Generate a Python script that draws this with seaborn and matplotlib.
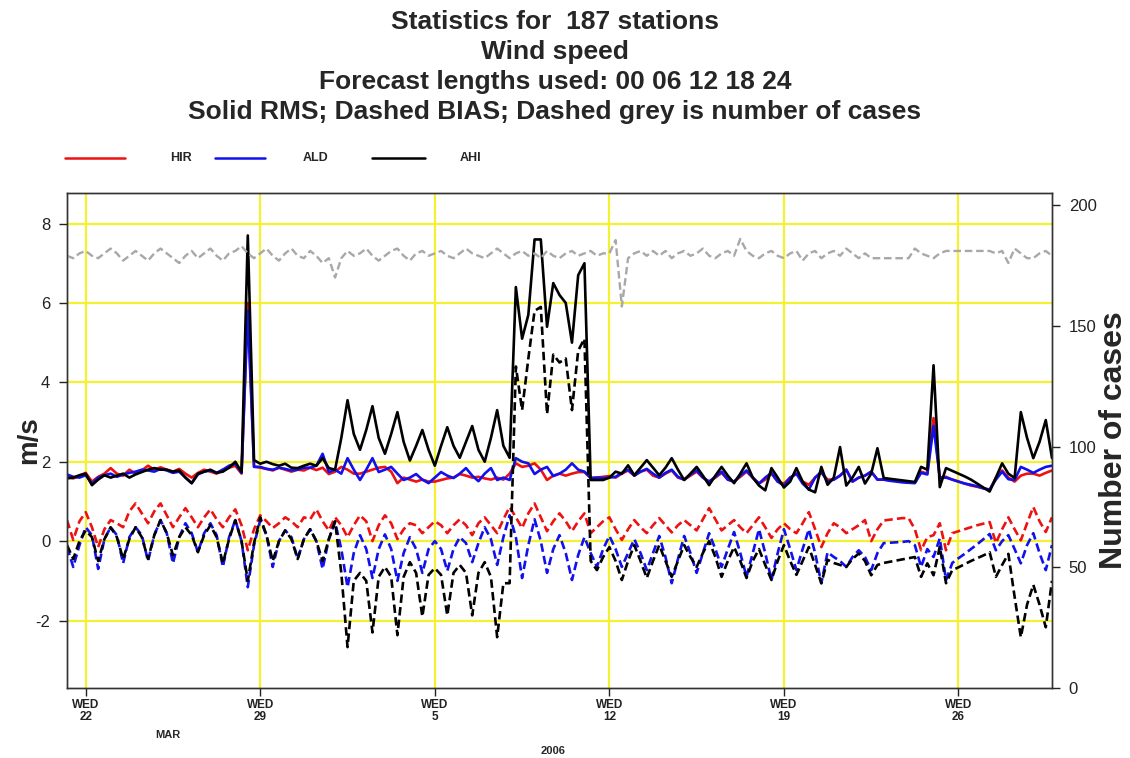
import numpy as np
import pandas as pd
import matplotlib
matplotlib.use("Agg")
import matplotlib.pyplot as plt
from matplotlib.lines import Line2D
import seaborn as sns

# ---------------- data (6-hourly, 2006-03-21 06Z .. 2006-04-29 18Z) ----------------
start_time = "2006-03-21 06:00"
n_points = 159
step = "6h"

hir_rms = [1.62, 1.58, 1.65,
           1.72, 1.50, 1.62, 1.70,
           1.84, 1.70, 1.65, 1.80,
           1.70, 1.78, 1.90, 1.80,
           1.86, 1.80, 1.75, 1.82,
           1.70, 1.60, 1.72, 1.80,
           1.75, 1.70, 1.80, 1.85,
           1.90, 1.70, 6.00, 1.88,
           1.85, 1.82, 1.78, 1.85,
           1.80, 1.75, 1.80, 1.78,
           1.85, 1.79, 1.85, 1.69,
           1.75, 1.87, 1.80, 1.70,
           1.70, 1.75, 1.80, 1.85,
           1.87, 1.75, 1.46, 1.60,
           1.55, 1.50, 1.55, 1.50,
           1.50, 1.54, 1.58, 1.60,
           1.69, 1.65, 1.60, 1.62,
           1.58, 1.55, 1.60, 1.55,
           1.70, 1.96, 1.87, 1.90,
           1.96, 1.80, 1.54, 1.65,
           1.70, 1.65, 1.70, 1.74,
           1.74, 1.59, 1.60, 1.62,
           1.64, 1.60, 1.70, 1.78,
           1.65, 1.75, 1.80, 1.65,
           1.60, 1.70, 1.78, 1.60,
           1.55, 1.65, 1.75, 1.60,
           1.50, 1.60, 1.72, 1.55,
           1.50, 1.62, 1.75, 1.60,
           1.45, 1.55, 1.70, 1.50,
           1.45, 1.60, 1.70, 1.50,
           1.42, 1.60, 1.72, 1.55,
           1.55, 1.65, 1.80, 1.50,
           1.60, 1.65, 1.75, 1.55,
           1.55, 1.53, 1.52, 1.50,
           1.48, 1.47, 1.75, 1.70,
           3.10, 1.60, 1.62, 1.55,
           1.50, 1.45, 1.40, 1.37,
           1.33, 1.29, 1.60, 1.78,
           1.60, 1.50, 1.65, 1.70,
           1.70, 1.65, 1.72, 1.78]

ald_rms = [1.68, 1.62, 1.60,
           1.66, 1.45, 1.60, 1.66,
           1.70, 1.62, 1.68, 1.72,
           1.75, 1.80, 1.78, 1.75,
           1.82, 1.78, 1.72, 1.75,
           1.60, 1.46, 1.68, 1.75,
           1.78, 1.72, 1.80, 1.90,
           1.95, 1.72, 5.80, 1.87,
           1.87, 1.82, 1.80, 1.85,
           1.82, 1.78, 1.80, 1.85,
           1.85, 1.90, 2.20, 1.74,
           1.80, 1.70, 2.09, 1.80,
           1.54, 1.80, 2.09, 1.74,
           1.80, 1.87, 1.70, 1.54,
           1.60, 1.69, 1.55, 1.46,
           1.60, 1.74, 1.65, 1.59,
           1.70, 1.84, 1.65, 1.51,
           1.70, 1.84, 1.54, 1.60,
           1.54, 2.09, 2.00, 1.96,
           1.69, 1.80, 1.87, 1.64,
           1.70, 1.80, 1.96, 1.80,
           1.75, 1.59, 1.60, 1.59,
           1.60, 1.62, 1.72, 1.80,
           1.65, 1.75, 1.82, 1.70,
           1.60, 1.72, 1.80, 1.62,
           1.55, 1.68, 1.78, 1.60,
           1.50, 1.62, 1.75, 1.55,
           1.50, 1.65, 1.78, 1.60,
           1.45, 1.60, 1.72, 1.50,
           1.40, 1.60, 1.70, 1.45,
           1.30, 1.60, 1.75, 1.50,
           1.55, 1.65, 1.80, 1.50,
           1.60, 1.65, 1.75, 1.55,
           1.55, 1.52, 1.50, 1.48,
           1.47, 1.46, 1.72, 1.68,
           2.90, 1.60, 1.60, 1.55,
           1.50, 1.45, 1.42, 1.38,
           1.33, 1.30, 1.55, 1.75,
           1.56, 1.54, 1.87, 1.80,
           1.72, 1.80, 1.87, 1.90]

ahi_rms = [1.58, 1.60, 1.66,
           1.70, 1.41, 1.55, 1.66,
           1.60, 1.65, 1.70, 1.60,
           1.68, 1.74, 1.80, 1.84,
           1.80, 1.80, 1.75, 1.78,
           1.60, 1.46, 1.70, 1.75,
           1.80, 1.72, 1.75, 1.85,
           2.00, 1.74, 7.70, 2.04,
           1.95, 2.00, 1.94, 1.90,
           1.95, 1.85, 1.84, 1.90,
           1.95, 1.90, 2.09, 1.84,
           1.80, 2.60, 3.55, 2.70,
           2.30, 2.80, 3.40, 2.60,
           2.20, 2.70, 3.25, 2.50,
           2.03, 2.40, 2.80, 2.30,
           1.90, 2.40, 2.87, 2.40,
           2.10, 2.50, 2.90, 2.30,
           2.00, 2.60, 3.30, 2.40,
           2.10, 6.40, 5.10, 5.70,
           7.60, 7.60, 5.40, 6.50,
           6.20, 6.00, 5.00, 6.70,
           7.00, 1.54, 1.54, 1.54,
           1.60, 1.75, 1.70, 1.91,
           1.66, 1.85, 2.04, 1.85,
           1.66, 1.85, 2.09, 1.80,
           1.54, 1.70, 1.87, 1.65,
           1.41, 1.65, 1.87, 1.65,
           1.46, 1.70, 1.96, 1.60,
           1.40, 1.28, 1.84, 1.60,
           1.35, 1.50, 1.84, 1.50,
           1.30, 1.23, 1.87, 1.42,
           1.60, 2.37, 1.40, 1.60,
           1.87, 1.45, 1.70, 2.34,
           1.59, 1.57, 1.55, 1.53,
           1.51, 1.49, 1.87, 1.80,
           4.43, 1.36, 1.84, 1.77,
           1.70, 1.63, 1.55, 1.45,
           1.35, 1.25, 1.60, 1.96,
           1.70, 1.59, 3.25, 2.60,
           2.09, 2.50, 3.05, 2.09]

hir_bias = [0.53, 0.03, 0.50,
            0.73, 0.35, -0.15, 0.30,
            0.53, 0.45, 0.35, 0.75,
            0.95, 0.70, 0.45, 0.75,
            0.95, 0.65, 0.35, 0.60,
            0.83, 0.60, 0.35, 0.60,
            0.80, 0.55, 0.35, 0.60,
            0.80, 0.40, -0.23, 0.30,
            0.65, 0.50, 0.33, 0.45,
            0.60, 0.50, 0.35, 0.60,
            0.55, 0.80, 0.50, 0.27,
            0.60, 0.40, 0.10, 0.40,
            0.65, 0.50, 0.00, 0.40,
            0.65, 0.45, 0.05, 0.30,
            0.45, 0.40, 0.20, 0.35,
            0.50, 0.40, 0.20, 0.40,
            0.55, 0.40, 0.15, 0.45,
            0.60, 0.40, 0.20, 0.55,
            0.86, 0.60, 0.33, 0.70,
            0.95, 0.60, 0.25, 0.50,
            0.70, 0.50, 0.25, 0.50,
            0.70, 0.20, 0.35, 0.50,
            0.60, 0.30, 0.03, 0.30,
            0.53, 0.35, 0.20, 0.40,
            0.58, 0.40, 0.22, 0.40,
            0.53, 0.40, 0.27, 0.55,
            0.83, 0.55, 0.27, 0.40,
            0.53, 0.35, 0.20, 0.40,
            0.60, 0.35, 0.08, 0.30,
            0.45, 0.30, 0.20, 0.45,
            0.73, 0.30, -0.15, 0.20,
            0.45, 0.35, 0.20, 0.30,
            0.40, 0.53, 0.00, 0.30,
            0.52, 0.54, 0.56, 0.58,
            0.58, 0.30, -0.23, 0.10,
            0.15, 0.45, -0.23, 0.20,
            0.25, 0.30, 0.35, 0.40,
            0.44, 0.48, -0.05, 0.30,
            0.60, 0.30, 0.02, 0.45,
            0.86, 0.50, 0.23, 0.60]

ald_bias = [-0.15, -0.65, -0.10,
            0.35, 0.15, -0.70, 0.05,
            0.35, 0.15, -0.56, 0.10,
            0.35, 0.15, -0.50, 0.15,
            0.53, 0.20, -0.56, 0.10,
            0.45, 0.20, -0.28, 0.20,
            0.45, 0.15, -0.65, 0.10,
            0.53, 0.00, -1.16, -0.10,
            0.53, 0.15, -0.65, 0.00,
            0.27, 0.10, -0.45, 0.05,
            0.30, 0.00, -0.70, 0.05,
            0.48, -0.20, -1.16, -0.30,
            0.15, -0.20, -0.93, -0.20,
            0.17, -0.20, -1.00, -0.30,
            0.10, -0.20, -0.80, -0.20,
            0.00, -0.20, -0.75, -0.20,
            0.10, -0.05, -0.53, -0.05,
            0.35, 0.05, -0.60, 0.10,
            0.65, 0.10, -0.93, -0.10,
            0.55, 0.00, -0.80, -0.20,
            0.15, -0.30, -0.98, -0.35,
            0.10, -0.30, -0.65, -0.20,
            0.13, -0.20, -0.65, -0.30,
            0.05, -0.30, -0.73, -0.30,
            0.13, -0.40, -1.06, -0.45,
            0.13, -0.30, -0.80, -0.30,
            0.20, -0.20, -0.65, -0.20,
            0.23, -0.30, -0.90, -0.30,
            0.30, -0.30, -0.98, -0.30,
            0.30, -0.20, -0.73, -0.20,
            0.30, -0.30, -1.06, -0.28,
            -0.40, -0.50, -0.65, -0.40,
            -0.23, -0.40, -0.73, -0.30,
            -0.05, -0.04, -0.03, -0.02,
            0.00, -0.10, -0.65, -0.20,
            -0.40, 0.07, -0.98, -0.55,
            -0.43, -0.32, -0.20, -0.08,
            0.05, 0.18, -0.23, 0.00,
            0.15, -0.20, -0.56, -0.10,
            0.20, -0.30, -0.73, -0.10]

ahi_bias = [-0.10, -0.45, 0.00,
            0.27, 0.10, -0.50, 0.05,
            0.35, 0.10, -0.45, 0.05,
            0.35, 0.10, -0.45, 0.15,
            0.53, 0.20, -0.36, 0.10,
            0.35, 0.15, -0.28, 0.15,
            0.40, 0.10, -0.56, 0.05,
            0.53, 0.00, -1.00, -0.05,
            0.60, 0.15, -0.50, 0.00,
            0.27, 0.05, -0.45, 0.05,
            0.30, 0.00, -0.50, 0.05,
            0.50, -0.80, -2.67, -1.00,
            -0.80, -1.00, -2.30, -0.90,
            -0.65, -0.90, -2.37, -0.90,
            -0.53, -0.80, -1.90, -0.85,
            -0.68, -0.85, -1.87, -0.80,
            -0.60, -0.80, -1.87, -0.80,
            -0.53, -0.90, -2.42, -1.06,
            -1.06, 4.40, 3.30, 4.60,
            5.80, 5.90, 3.20, 4.70,
            4.50, 4.60, 3.30, 4.80,
            5.10, -0.50, -0.73, -0.40,
            -0.15, -0.50, -0.98, -0.50,
            -0.10, -0.50, -0.93, -0.50,
            -0.10, -0.50, -0.90, -0.50,
            -0.10, -0.40, -0.65, -0.30,
            0.00, -0.40, -0.90, -0.50,
            -0.15, -0.50, -0.93, -0.50,
            -0.20, -0.60, -0.98, -0.50,
            -0.10, -0.50, -0.85, -0.50,
            -0.15, -0.60, -1.06, -0.47,
            -0.55, -0.60, -0.65, -0.45,
            -0.31, -0.50, -0.86, -0.60,
            -0.55, -0.52, -0.49, -0.46,
            -0.43, -0.40, -0.90, -0.56,
            -0.86, -0.14, -1.06, -0.73,
            -0.66, -0.58, -0.50, -0.43,
            -0.36, -0.28, -0.90, -0.60,
            -0.32, -1.40, -2.42, -1.60,
            -1.10, -1.60, -2.17, -1.00]

n_cases = [179, 178, 180,
           181, 179, 178, 180,
           182, 180, 177, 179,
           181, 179, 177, 180,
           182, 180, 178, 176,
           179, 181, 178, 180,
           182, 179, 177, 180,
           181, 183, 180, 178,
           180, 182, 179, 177,
           180, 182, 179, 178,
           181, 179, 176, 178,
           170, 178, 181, 179,
           180, 182, 179, 177,
           179, 181, 182, 179,
           177, 180, 181, 179,
           180, 181, 179, 178,
           180, 182, 180, 179,
           178, 180, 182, 180,
           178, 180, 181, 179,
           180, 178, 181, 179,
           178, 180, 181, 179,
           180, 181, 179, 180,
           180, 185.5, 158, 178,
           180, 181, 179, 181,
           179, 181, 178, 180,
           181, 179, 180, 182,
           179, 178, 180, 181,
           179, 186, 181, 179,
           178, 180, 181, 179,
           178, 180, 181, 177,
           180, 181, 178, 180,
           181, 179, 182, 180,
           178, 180, 178, 178,
           178, 178, 178, 178,
           178, 182, 180, 179,
           178, 180, 181, 181,
           181, 181, 181, 181,
           181, 181, 180, 181,
           176, 182, 180, 178,
           178, 180, 181, 179]

wed_ticks = ["2006-03-22", "2006-03-29", "2006-04-05",
             "2006-04-12", "2006-04-19", "2006-04-26"]
wed_labels = ["WED\n22", "WED\n29", "WED\n5", "WED\n12", "WED\n19", "WED\n26"]
left_ticks = [-2, 0, 2, 4, 6, 8]
right_ticks = [0, 50, 100, 150, 200]

title_lines = ["Statistics for  187 stations",
               "Wind speed",
               "Forecast lengths used: 00 06 12 18 24",
               "Solid RMS; Dashed BIAS; Dashed grey is number of cases"]
model_names = ["HIR", "ALD", "AHI"]
model_colors = ["#ee1111", "#1111ee", "#000000"]

# ---------------- figure ----------------
sns.set_style("ticks")
plt.rcParams["font.family"] = ["Liberation Sans", "DejaVu Sans"]

times = pd.date_range(start_time, periods=n_points, freq=step)
df = pd.DataFrame({"time": times,
                   "HIR_rms": hir_rms, "ALD_rms": ald_rms, "AHI_rms": ahi_rms,
                   "HIR_bias": hir_bias, "ALD_bias": ald_bias, "AHI_bias": ahi_bias,
                   "cases": n_cases})

W, H = 1130, 758
fig = plt.figure(figsize=(W / 100, H / 100), dpi=100)
ax_l, ax_r, ax_t, ax_b = 67, 1052, 193, 688
ax = fig.add_axes([ax_l / W, 1 - ax_b / H, (ax_r - ax_l) / W, (ax_b - ax_t) / H])
ax2 = ax.twinx()

grid_col = "#f4f230"
ax.set_axisbelow(True)
ax.grid(True, color=grid_col, lw=1.6)

lw = 1.9
dash = (0, (3.2, 1.6))
for name, col in zip(model_names, model_colors):
    sns.lineplot(data=df, x="time", y=f"{name}_rms", ax=ax, color=col, lw=lw,
                 estimator=None, legend=False)
for name, col in zip(model_names, model_colors):
    sns.lineplot(data=df, x="time", y=f"{name}_bias", ax=ax, color=col, lw=lw,
                 linestyle=dash, estimator=None, legend=False)
sns.lineplot(data=df, x="time", y="cases", ax=ax2, color="#a8a8a8", lw=1.7,
             linestyle=dash, estimator=None, legend=False)

ax.set_xlim(times[0], times[-1])
ax.set_ylim(-3.7, 8.77)
ax2.set_ylim(0, 205)
ax.set_yticks(left_ticks)
ax.set_yticklabels([str(v) for v in left_ticks])
ax2.set_yticks(right_ticks)
ax2.set_yticklabels([str(v) for v in right_ticks])
ax.set_xticks(pd.to_datetime(wed_ticks))
ax.set_xticklabels(wed_labels, fontsize=8.5, fontweight="bold", linespacing=0.95)

ax.tick_params(axis="y", direction="out", length=6, width=1, labelsize=12,
               pad=6, colors="#222222")
ax.tick_params(axis="x", direction="out", length=6, width=1, pad=2,
               colors="#222222")
ax2.tick_params(axis="y", direction="out", length=6, width=1, labelsize=12,
                pad=6, colors="#222222")
ax2.grid(False)
for a in (ax, ax2):
    for s in a.spines.values():
        s.set_visible(True)
        s.set_color("#333333")
        s.set_linewidth(1.0)

ax.set_xlabel("")
ax.set_ylabel("m/s", fontsize=20, fontweight="bold")
ax.yaxis.set_label_coords((42 - ax_l) / (ax_r - ax_l), 0.5)
ax2.set_ylabel("Number of cases", fontsize=23, fontweight="bold")
ax2.yaxis.set_label_coords((1099 - ax_l) / (ax_r - ax_l), 0.5)

# titles
for i, line in enumerate(title_lines):
    fig.text(555 / W, 1 - (22 + 30 * i) / H, line, ha="center", va="center",
             fontsize=19, fontweight="bold")

# legend row
leg_y = 1 - 158 / H
leg_pos = [(65, 125, 181), (215, 265, 316), (372, 425, 471)]
for (x0, x1, xt), name, col in zip(leg_pos, model_names, model_colors):
    fig.add_artist(Line2D([x0 / W, x1 / W], [leg_y, leg_y], color=col, lw=1.8,
                          transform=fig.transFigure))
    fig.text(xt / W, leg_y, name, ha="center", va="center", fontsize=9,
             fontweight="bold")

fig.text(168 / W, 1 - 735 / H, "MAR", ha="center", va="center", fontsize=8,
         fontweight="bold")
fig.text(553 / W, 1 - 751 / H, "2006", ha="center", va="center", fontsize=8,
         fontweight="bold")

fig.savefig("out.png", dpi=100)
